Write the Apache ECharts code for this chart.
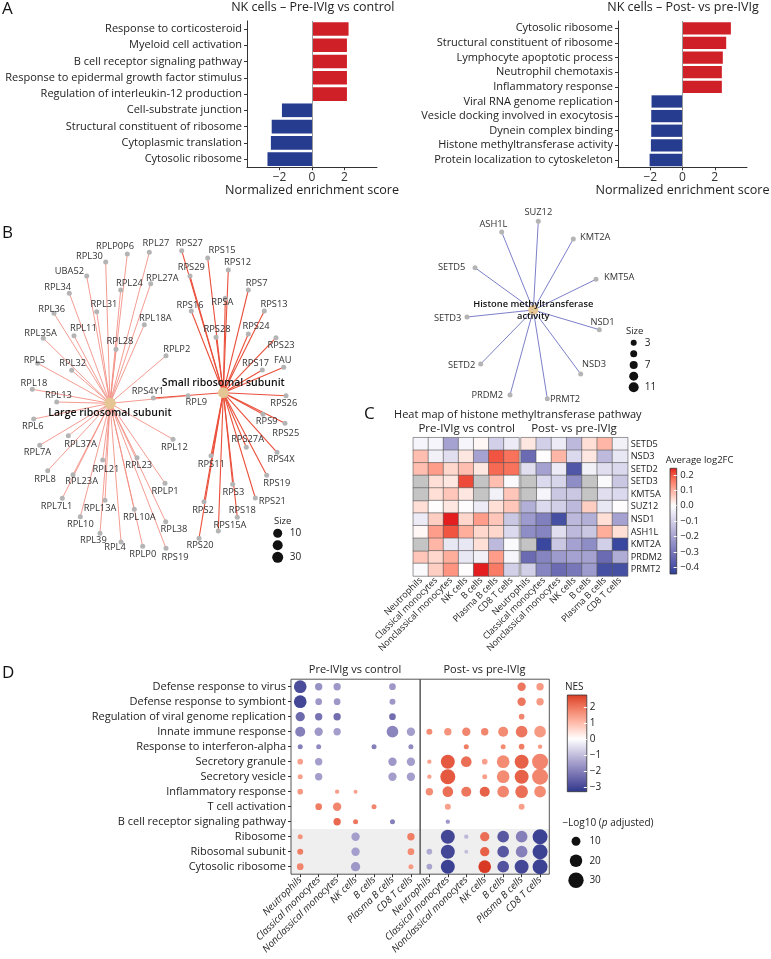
<!DOCTYPE html>
<html><head><meta charset="utf-8">
<script src="https://cdn.jsdelivr.net/npm/echarts@6/dist/echarts.min.js"></script>
<style>html,body{margin:0;padding:0;background:#fff}#c{width:771px;height:959px}</style>
</head><body><div id="c"></div>
<script>
// ================= DATA =================
// Panel A
const aLeftTerms = ['Response to corticosteroid','Myeloid cell activation','B cell receptor signaling pathway','Response to epidermal growth factor stimulus','Regulation of interleukin-12 production','Cell-substrate junction','Structural constituent of ribosome','Cytoplasmic translation','Cytosolic ribosome'];
const aLeftNES = [2.25, 2.15, 2.15, 2.15, 2.15, -1.85, -2.48, -2.53, -2.74];
const aRightTerms = ['Cytosolic ribosome','Structural constituent of ribosome','Lymphocyte apoptotic process','Neutrophil chemotaxis','Inflammatory response','Viral RNA genome replication','Vesicle docking involved in exocytosis','Dynein complex binding','Histone methyltransferase activity','Protein localization to cytoskeleton'];
const aRightNES = [3.0, 2.71, 2.5, 2.44, 2.44, -1.92, -1.94, -1.94, -1.96, -2.04];
const aTicks = [-2, 0, 2];

// Panel B (network layout positions)
const largeHub = ['Large ribosomal subunit', 110, 403.3];
const smallHub = ['Small ribosomal subunit', 223.3, 392.7];
const largeGenes = [['RPL30',105.7,262],['RPLP0P6',127.3,254],['RPL27',149.3,252.3],['UBA52',86.7,276],['RPL24',120.7,290],['RPL27A',150.7,283.7],['RPL34',69.3,293.3],['RPL31',96.7,311.7],['RPL36',54,313.3],['RPL18A',144.3,324.7],['RPL11',74,335.7],['RPL35A',43.3,338.3],['RPL28',116,349.3],['RPLP2',166,355.7],['RPL5',37.7,363.3],['RPL32',71.7,370.3],['RPL18',32.3,389.3],['RPL13',56.7,402],['RPL9',188,395.7],['RPL6',33.7,419],['RPL7A',39.7,445.3],['RPL37A',68.3,435.7],['RPL12',173,439.3],['RPL21',102.7,460],['RPL23',137,457.7],['RPL8',47.7,470.7],['RPL23A',73,474.7],['RPLP1',165,483.3],['RPL7L1',62.3,498.3],['RPL13A',105,500.3],['RPL10',80.3,516.7],['RPL10A',134.3,509.3],['RPL38',165.7,521.7],['RPL39',100,533.3],['RPL4',121,542],['RPLP0',142.7,546.3],['RPS19',166,548.3]];
const largeLabelOff = [[-16.3,-5.3],[-12.3,-7.3],[6.7,-8.7],[-17.3,-5],[8.7,-6.7],[11.7,-5],[-11.7,-6],[7.3,-7.3],[-2.3,-4],[11,-6.3],[9.3,-7.7],[-2.7,-5],[4,-7.7],[10.7,-6.3],[-3.3,-3.3],[1,-7],[1.7,-6.3],[1.7,-6.3],[8.3,7],[-1,7.7],[-2.3,7],[12.3,8.7],[1.3,7.7],[3.3,9.3],[1.7,8],[-2.7,8.3],[8.7,7],[0,7.7],[-5.7,8.3],[-5,7.7],[0,7.7],[5,8],[8.3,7.3],[-6.7,7.3],[-6,5.7],[0,8.3],[9,9]];
const smallGenes = [['RPS27',181.7,250.7],['RPS15',207.7,258],['RPS12',228.3,270],['RPS29',190,276],['RPS7',248.3,290],['RPSA',225.3,298.3],['RPS13',264.3,311],['RPS16',191.3,311],['RPS28',216,337.3],['RPS24',248.3,334],['RPS23',276,337.7],['FAU',283.7,367.3],['RPS17',262.3,370],['RPS26',286,395.7],['RPS9',263,414.3],['RPS25',285,423.3],['RPS27A',246.3,447.3],['RPS4X',277,452.3],['RPS11',211,455.7],['RPS19',266.7,475.3],['RPS3',232.7,484.3],['RPS21',255.3,498],['RPS2',204,501.7],['RPS18',237.3,517.3],['RPS15A',218.3,531],['RPS20',199,538.3],['RPS4Y1',153.3,398]];
const smallLabelOff = [[7.7,-7],[14.3,-7.3],[9.3,-7.3],[1.3,-8.3],[8.3,-6.7],[-3,4.3],[9.7,-7],[-1.3,-5.7],[1,-8],[7.7,-7.3],[5,8],[-1,-7.3],[-6.7,-6.7],[-2.3,8],[3.7,7],[0.7,10],[1.3,-8],[4,7.3],[0.3,8.7],[10,8],[0.7,8],[17,3.7],[-1,8.7],[5,-6.7],[11.7,-5.7],[1,7.3],[-5.3,-7]];
const histHub = ['Histone methyltransferase\nactivity', 533.3, 310];
const histGenes = [['SUZ12',538.3,221.3],['ASH1L',501.7,232],['KMT2A',573.3,239],['SETD5',475,267.7],['KMT5A',596,279.3],['SETD3',467,317],['NSD1',599.3,329.7],['SETD2',480.7,364],['NSD3',580.7,374],['PRDM2',510,395],['PRMT2',547.3,398.7]];
const histLabelOff = [[0,-8.7],[-8.3,-7.7],[22,-1.3],[-23.3,-0.7],[23.3,-1.7],[-19.3,1.3],[3.3,-7.3],[-19,1],[13.3,-9.3],[-22.7,0],[17.7,0.3]];
const riboSizeLegend = [10, 20, 30];
const histSizeLegend = [3, 5, 7, 9, 11];

// Panel C
const heatRows = ['SETD5','NSD3','SETD2','SETD3','KMT5A','SUZ12','NSD1','ASH1L','KMT2A','PRDM2','PRMT2'];
const cellTypes = ['Neutrophils','Classical monocytes','Nonclassical monocytes','NK cells','B cells','Plasma B cells','CD8 T cells'];
const heatPre = [
 [-0.02,-0.02,-0.2,-0.02,0.01,-0.1,-0.04],
 [0.08,-0.03,-0.07,0.03,-0.2,0.2,0.17],
 [0.08,0.12,0.05,0.08,0.03,0.18,0.17],
 [null,0.04,0.03,0.21,null,0.08,-0.01],
 [null,0.04,0.07,0.03,null,-0.03,0.07],
 [0.04,0.0,0.03,0.0,-0.04,0.04,0.07],
 [-0.04,0.06,0.24,0.05,0.12,0.07,-0.12],
 [0.01,0.12,0.2,0.1,0.05,0.05,-0.08],
 [null,0.09,-0.05,-0.05,0.04,-0.15,-0.01],
 [0.07,0.05,0.1,-0.05,-0.03,0.12,-0.02],
 [-0.01,0.06,0.13,0.0,0.24,0.16,-0.1]];
const heatPost = [
 [0.03,-0.1,-0.04,-0.15,0.04,0.09,-0.03],
 [-0.33,0.0,0.09,-0.08,0.03,-0.15,-0.05],
 [-0.07,-0.2,-0.04,-0.38,-0.03,-0.07,-0.08],
 [null,-0.08,-0.09,-0.25,null,-0.01,-0.12],
 [null,-0.02,-0.12,-0.12,null,-0.07,-0.08],
 [-0.17,-0.08,-0.1,-0.15,0.06,-0.05,0.0],
 [-0.22,-0.28,-0.4,-0.15,-0.17,0.04,-0.2],
 [-0.25,-0.27,-0.07,-0.15,-0.12,0.1,0.04],
 [null,-0.42,-0.12,-0.2,-0.25,-0.1,-0.42],
 [-0.33,-0.27,-0.22,-0.2,-0.2,-0.33,-0.18],
 [-0.1,-0.27,-0.33,-0.3,-0.22,-0.4,-0.4]];
const cMin = -0.443, cMax = 0.243;
const cTicks = [-0.4,-0.3,-0.2,-0.1,0,0.1,0.2];

// Panel D
const dRows = ['Defense response to virus','Defense response to symbiont','Regulation of viral genome replication','Innate immune response','Response to interferon-alpha','Secretory granule','Secretory vesicle','Inflammatory response','T cell activation','B cell receptor signaling pathway','Ribosome','Ribosomal subunit','Cytosolic ribosome'];
const dShadedRows = ['Ribosome','Ribosomal subunit','Cytosolic ribosome'];
const dNesPre = [
 [-2.9,-1.7,-1.6,null,null,-1.6,null],
 [-3.0,-1.6,-1.6,null,null,-1.6,null],
 [-2.4,-2.2,-2.3,null,null,-2.3,null],
 [-2.0,-1.6,-1.5,null,null,-1.9,-1.5],
 [-2.0,-1.8,null,null,-2.0,null,-1.8],
 [1.4,-1.5,null,null,null,-1.6,-1.5],
 [1.4,-1.5,null,null,null,-1.5,-1.5],
 [1.5,null,1.4,1.4,null,null,null],
 [null,1.9,1.8,null,1.8,null,null],
 [null,null,2.2,2.0,null,-2.0,null],
 [1.6,null,null,-1.5,null,null,1.9],
 [1.9,null,null,-1.5,null,null,1.7],
 [1.8,null,null,-1.6,null,null,1.5]];
const dSizePre = [
 [20.5,6.9,6.9,null,null,5.7,null],
 [20.5,5.7,5.7,null,null,4.6,null],
 [11.1,6.9,6.9,null,null,5.7,null],
 [12.8,8.9,6.9,null,null,17.4,8.9],
 [3.2,3.2,null,null,3.2,null,3.2],
 [4.1,6.9,null,null,null,8.9,8.9],
 [3.2,6.9,null,null,null,8.9,8.9],
 [4.1,null,2.4,2.0,null,null,null],
 [null,5.7,8.9,null,3.2,null,null],
 [null,null,6.9,3.2,null,3.2,null],
 [3.2,null,null,8.9,null,null,6.9],
 [4.6,null,null,8.9,null,null,5.7],
 [5.7,null,null,11.1,null,null,3.2]];
const dNesPost = [
 [null,null,null,null,null,2.0,1.5],
 [null,null,null,null,null,2.0,1.5],
 [null,null,null,null,null,1.8,null],
 [1.7,1.6,1.8,1.8,1.7,2.0,1.5],
 [null,null,1.9,null,1.7,1.9,1.5],
 [1.4,2.4,2.1,1.4,1.7,2.3,1.8],
 [1.4,2.4,null,1.4,1.7,2.3,1.8],
 [1.7,2.1,2.0,2.3,1.8,2.1,1.7],
 [null,1.4,null,null,null,1.4,null],
 [null,-1.6,null,null,null,null,null],
 [null,-3.0,-1.1,2.1,-2.7,-2.0,-3.1],
 [-1.3,-3.0,-1.0,2.3,-2.7,-2.0,-3.1],
 [-1.4,-3.1,null,2.8,-2.8,-3.0,-3.1]];
const dSizePost = [
 [null,null,null,null,null,8.9,6.9],
 [null,null,null,null,null,8.9,6.9],
 [null,null,null,null,null,4.1,null],
 [4.6,6.9,8.9,6.9,12.8,17.4,17.4],
 [null,null,3.2,null,3.2,4.1,2.4],
 [2.4,25,14.5,4.1,20.5,25,32.7],
 [2.4,28.7,null,3.2,20.5,25,32.7],
 [6.9,14.5,12.8,12.8,17.4,20.5,17.4],
 [null,4.6,null,null,null,4.6,null],
 [null,2.4,null,null,null,null,null],
 [null,25,2.4,11.1,17.4,17.4,28.7],
 [4.1,25,2.0,11.1,17.4,17.4,28.7],
 [4.1,25,null,20.5,17.4,25,28.7]];
const dMin = -3.31, dMax = 2.77;
const dTicks = [-3,-2,-1,0,1,2];
const dSizeLegend = [10, 20, 30];

// ================= STYLE HELPERS =================
const FONT = '"Open Sans", "DejaVu Sans", sans-serif';
const TXT = '#222';
const minus = s => String(s).replace('-', '\u2212');

function hex2rgb(h){h=h.replace('#','');return [0,2,4].map(i=>parseInt(h.substr(i,2),16));}
function s2l(c){c/=255;return c<=0.04045?c/12.92:Math.pow((c+0.055)/1.055,2.4);}
function l2s(c){c=c<=0.0031308?12.92*c:1.055*Math.pow(c,1/2.4)-0.055;return Math.max(0,Math.min(255,Math.round(c*255)));}
function rgb2lab(rgb){const [r,g,b]=rgb.map(s2l);const x=(0.4124*r+0.3576*g+0.1805*b)/0.95047,y=0.2126*r+0.7152*g+0.0722*b,z=(0.0193*r+0.1192*g+0.9505*b)/1.08883;const f=t=>t>0.008856?Math.cbrt(t):7.787*t+16/116;const fx=f(x),fy=f(y),fz=f(z);return [116*fy-16,500*(fx-fy),200*(fy-fz)];}
function lab2hex(lab){const [L,a,bb]=lab;const fy=(L+16)/116,fx=fy+a/500,fz=fy-bb/200;const fi=t=>{const t3=t*t*t;return t3>0.008856?t3:(t-16/116)/7.787;};const x=fi(fx)*0.95047,y=fi(fy),z=fi(fz)*1.08883;const r=3.2406*x-1.5372*y-0.4986*z,g=-0.9689*x+1.8758*y+0.0415*z,b=0.0557*x-0.2040*y+1.0570*z;return '#'+[r,g,b].map(l2s).map(v=>v.toString(16).padStart(2,'0')).join('');}
function diverging(lo, hi, vmin, vmax){
  const W=rgb2lab([255,255,255]), L=rgb2lab(hex2rgb(lo)), H=rgb2lab(hex2rgb(hi));
  return v=>{const t=v<0?Math.min(1,v/vmin):Math.min(1,v/vmax);const E=v<0?L:H;return lab2hex(W.map((w,i)=>w+(E[i]-w)*t));};
}
function sample(fn, vmin, vmax, n){const a=[];for(let i=0;i<n;i++)a.push(fn(vmin+(vmax-vmin)*i/(n-1)));return a;}
function gradientTopDown(fn, vmin, vmax, n){const stops=[];for(let i=0;i<n;i++){stops.push({offset:i/(n-1),color:fn(vmax-(vmax-vmin)*i/(n-1))});}return {type:'linear',x:0,y:0,x2:0,y2:1,colorStops:stops};}
const cColor = diverging('#2b3f99', '#e3191c', cMin, cMax);
const dColor = diverging('#2a378c', '#d93a25', dMin, dMax);

// ================= BUILD =================
const grids=[], xAxes=[], yAxes=[], series=[], titles=[];
function addGrid(g){grids.push(Object.assign({outerBoundsMode:'none',containLabel:false,show:false},g));return grids.length-1;}
function T(text,x,y,o){o=o||{};titles.push({text:text,left:x,top:y,padding:0,textAlign:o.align||'left',textVerticalAlign:o.valign||'middle',
  textStyle:Object.assign({fontFamily:FONT,fontSize:o.fs||11,fontWeight:o.fw||'normal',color:o.color||TXT},o.ts||{})});}

// ---- Panel A ----
function barPanel(terms, vals, g){
  const gi=addGrid(g);
  xAxes.push({gridIndex:gi,type:'value',min:-4,max:4,interval:2,
    axisLine:{show:true,onZero:false,lineStyle:{color:'#333',width:1}},
    axisTick:{show:true,length:3,customValues:aTicks,lineStyle:{color:'#333'}},
    axisLabel:{customValues:aTicks,formatter:v=>minus(v),fontFamily:FONT,fontSize:12,color:'#333',margin:4},
    splitLine:{show:false},name:'Normalized enrichment score',nameLocation:'middle',nameGap:17,
    nameTextStyle:{fontFamily:FONT,fontSize:12.6,color:TXT}});
  yAxes.push({gridIndex:gi,type:'category',data:terms,inverse:true,
    axisLine:{show:true,onZero:false,lineStyle:{color:'#333'}},
    axisTick:{show:true,length:3,alignWithLabel:true,lineStyle:{color:'#333'}},
    axisLabel:{fontFamily:FONT,fontSize:11,color:TXT,margin:5,interval:0}});
  series.push({type:'bar',xAxisIndex:gi,yAxisIndex:gi,barCategoryGap:'16%',silent:true,
    data:vals.map(v=>({value:v,itemStyle:{color:v>0?'#cf2027':'#263d8f'}})),
    markLine:{silent:true,symbol:'none',label:{show:false},lineStyle:{color:'#999',width:1,type:'solid'},data:[{xAxis:0}]}});
}
barPanel(aLeftTerms, aLeftNES, {left:247,top:20.9,width:130,height:146.3});
barPanel(aRightTerms, aRightNES, {left:618,top:21,width:129,height:146.3});
T('A',2,9,{fs:17,color:'#111'});
T('NK cells \u2013 Pre-IVIg vs control',312.8,7,{align:'center',fs:12.5});
T('NK cells \u2013 Post- vs pre-IVIg',683,7,{align:'center',fs:12.5});

// ---- Panel B (network on a page-scale cartesian layout) ----
const pg=addGrid({left:0,top:0,width:771,height:959});
xAxes.push({gridIndex:pg,type:'value',min:0,max:771,show:false});
yAxes.push({gridIndex:pg,type:'value',min:0,max:959,inverse:true,show:false});
const riboSize = v => 8 + 0.1*v;
const histSize = v => 4.5 + 0.5*v;
function buildNet(prefix, hubs, groups, edgeStyles, hubSizeFn){
  const nodes=[], links=[];
  groups.forEach((grp,gIdx)=>{
    grp.genes.forEach((gn,i)=>{
      nodes.push({id:prefix+gIdx+'_'+i,name:gn[0],value:[gn[1],gn[2]],symbolSize:5,itemStyle:{color:'#b4b4b4'},
        label:{show:true,position:'inside',offset:grp.off[i],fontFamily:FONT,fontSize:9.3,color:'#333'}});
      links.push({source:nodes.length-1,target:-1-gIdx,lineStyle:edgeStyles[gIdx]});
    });
  });
  hubs.forEach((h,k)=>{
    nodes.push({id:prefix+'hub'+k,name:h[0],value:[h[1],h[2]],symbolSize:hubSizeFn(groups[k].genes.length),itemStyle:{color:'#e6c594'},
      label:{show:true,position:'inside',offset:h[3],fontFamily:FONT,fontSize:h[4],fontWeight:600,color:'#111',lineHeight:12}});
    const idx=nodes.length-1;
    links.forEach(l=>{if(l.target===-1-k)l.target=idx;});
  });
  return {nodes,links};
}
const ribo = buildNet('r',[[largeHub[0],largeHub[1],largeHub[2],[0,9.5],10.5],[smallHub[0],smallHub[1],smallHub[2],[0,-9.5],10.5]],
  [{genes:largeGenes,off:largeLabelOff},{genes:smallGenes,off:smallLabelOff}],
  [{color:'#f39186',width:0.9,opacity:1},{color:'#ea4f3a',width:1.1,opacity:1}], riboSize);
series.push({type:'graph',coordinateSystem:'cartesian2d',xAxisIndex:pg,yAxisIndex:pg,silent:true,
  data:ribo.nodes,links:ribo.links,edgeSymbol:['none','none'],z:3});
const hist = buildNet('h',[[histHub[0],histHub[1],histHub[2],[0,0],9.3]],[{genes:histGenes,off:histLabelOff}],
  [{color:'#6d70c2',width:0.9,opacity:1}], histSize);
series.push({type:'graph',coordinateSystem:'cartesian2d',xAxisIndex:pg,yAxisIndex:pg,silent:true,
  data:hist.nodes,links:hist.links,edgeSymbol:['none','none'],z:3});
T('B',2,233,{fs:17,color:'#111'});

function sizeLegend(vals, sizeFn, g, margin, fs){
  const gi=addGrid(g);
  xAxes.push({gridIndex:gi,type:'category',data:['s'],show:false});
  yAxes.push({gridIndex:gi,type:'category',data:vals.map(String),inverse:true,position:'right',
    axisLine:{show:false},axisTick:{show:false},axisLabel:{margin:margin,fontFamily:FONT,fontSize:fs,color:TXT}});
  series.push({type:'scatter',xAxisIndex:gi,yAxisIndex:gi,silent:true,
    data:vals.map((v,i)=>[0,i,v]),symbolSize:val=>sizeFn(val[2]),itemStyle:{color:'#111',opacity:1}});
}
sizeLegend(riboSizeLegend, riboSize, {left:271.7,top:527.3,width:12,height:36}, 6, 10);
sizeLegend(histSizeLegend, histSize, {left:627.7,top:337.1,width:12,height:55.8}, 5, 10);
T('Size',274,521.7,{fs:9.5});
T('Size',626,331.7,{fs:9.5});

// ---- Panel C ----
const heatSeriesIdx=[];
function heatPanel(vals, g, showRows){
  const gi=addGrid(g);
  xAxes.push({gridIndex:gi,type:'category',data:cellTypes,axisLine:{show:false},axisTick:{show:false},
    axisLabel:{rotate:45,interval:0,fontFamily:FONT,fontSize:9,color:TXT,margin:3}});
  yAxes.push({gridIndex:gi,type:'category',data:heatRows,inverse:true,position:'right',axisLine:{show:false},axisTick:{show:false},
    axisLabel:{show:showRows,fontFamily:FONT,fontSize:9.2,color:TXT,margin:3,interval:0}});
  const good=[],na=[];
  vals.forEach((row,r)=>row.forEach((v,c)=>{if(v===null)na.push([c,r,0]);else good.push([c,r,v]);}));
  series.push({type:'heatmap',xAxisIndex:gi,yAxisIndex:gi,silent:true,data:good,itemStyle:{borderColor:'#555',borderWidth:0.6}});
  heatSeriesIdx.push(series.length-1);
  if(na.length) series.push({type:'heatmap',xAxisIndex:gi,yAxisIndex:gi,silent:true,data:na,itemStyle:{color:'#c4c4c4',borderColor:'#555',borderWidth:0.6}});
}
heatPanel(heatPre,{left:413.3,top:437.7,width:105.7,height:138.3},false);
heatPanel(heatPost,{left:521,top:437.7,width:106.7,height:138.3},true);
T('C',364,414,{fs:17,color:'#111'});
T('Heat map of histone methyltransferase pathway',517.8,415,{align:'center',fs:11});
T('Pre-IVIg vs control',466.7,428.3,{align:'center',fs:11.5});
T('Post- vs pre-IVIg',574,428.3,{align:'center',fs:11.5});
T('Average log2FC',665.7,460,{fs:9.5});

function colorBar(fn, vmin, vmax, ticks, fmt, g, margin, fs){
  const gi=addGrid(g);
  xAxes.push({gridIndex:gi,type:'category',data:['c'],show:false});
  yAxes.push({gridIndex:gi,type:'value',min:vmin,max:vmax,position:'right',z:10,axisLine:{show:false},splitLine:{show:false},
    axisTick:{show:true,inside:true,length:3,customValues:ticks,lineStyle:{color:'#fff',width:1}},
    axisLabel:{customValues:ticks,formatter:fmt,fontFamily:FONT,fontSize:fs,color:TXT,margin:margin}});
  series.push({type:'scatter',xAxisIndex:gi,yAxisIndex:gi,silent:true,data:[[0,0]],symbolSize:0,
    markArea:{silent:true,itemStyle:{color:gradientTopDown(fn,vmin,vmax,41),borderColor:'#333',borderWidth:0.8},
      data:[[{yAxis:vmin},{yAxis:vmax}]]}});
}
colorBar(cColor,cMin,cMax,cTicks,v=>(v<0?'\u2212':'')+Math.abs(v).toFixed(1),{left:670,top:468.3,width:6.7,height:105.7},3.5,9.5);

// ---- Panel D ----
const dScatterIdx=[];
function dotPanel(nes, size, g, showRows){
  const gi=addGrid(Object.assign({show:true,borderColor:'#555',borderWidth:1,backgroundColor:'transparent'},g));
  xAxes.push({gridIndex:gi,type:'category',data:cellTypes,axisLine:{show:false},
    axisTick:{show:true,length:3,alignWithLabel:true,lineStyle:{color:'#333'}},
    axisLabel:{rotate:45,interval:0,fontFamily:FONT,fontStyle:'italic',fontSize:9.8,color:TXT,margin:4}});
  yAxes.push({gridIndex:gi,type:'category',data:dRows,inverse:true,axisLine:{show:false},
    axisTick:{show:showRows,length:3,alignWithLabel:true,lineStyle:{color:'#333'}},
    axisLabel:{show:showRows,fontFamily:FONT,fontSize:11,color:TXT,margin:5,interval:0}});
  const bg=[];
  dShadedRows.forEach(rn=>{const r=dRows.indexOf(rn);cellTypes.forEach((c,ci)=>bg.push([ci,r,0]));});
  series.push({type:'heatmap',xAxisIndex:gi,yAxisIndex:gi,silent:true,z:-1,data:bg,itemStyle:{color:'#efefef',borderWidth:0}});
  const pts=[];
  nes.forEach((row,r)=>row.forEach((v,c)=>{if(v!==null)pts.push([c,r,v,size[r][c]]);}));
  series.push({type:'scatter',xAxisIndex:gi,yAxisIndex:gi,silent:true,data:pts,symbolSize:val=>2.8*Math.sqrt(val[3]),itemStyle:{opacity:1}});
  dScatterIdx.push(series.length-1);
}
dotPanel(dNesPre,dSizePre,{left:291,top:679.2,width:129.15,height:195},true);
dotPanel(dNesPost,dSizePost,{left:420.15,top:679.2,width:129.15,height:195},false);
T('D',2,673,{fs:17,color:'#111'});
T('Pre-IVIg vs control',355,670,{align:'center',fs:11});
T('Post- vs pre-IVIg',484.5,670,{align:'center',fs:11});
T('NES',565,686.7,{fs:10});
colorBar(dColor,dMin,dMax,dTicks,v=>minus(v),{left:567.3,top:695,width:19.5,height:96.7},3,10);
titles.push({text:'\u2212Log10 ({i|p} adjusted)',left:562.4,top:823.3,padding:0,textVerticalAlign:'middle',
  textStyle:{fontFamily:FONT,fontSize:10,fontWeight:'normal',color:TXT,
    rich:{i:{fontFamily:FONT,fontSize:10,fontWeight:'normal',fontStyle:'italic',color:TXT}}}});
sizeLegend(dSizeLegend, v=>2.8*Math.sqrt(v), {left:567,top:831.5,width:18,height:58.5}, 4.4, 10);

const option = {
  backgroundColor:'#fff', animation:false,
  title:titles, grid:grids, xAxis:xAxes, yAxis:yAxes, series:series,
  visualMap:[
    {type:'continuous',show:false,seriesIndex:heatSeriesIdx,dimension:2,min:cMin,max:cMax,inRange:{color:sample(cColor,cMin,cMax,41)}},
    {type:'continuous',show:false,seriesIndex:dScatterIdx,dimension:2,min:dMin,max:dMax,inRange:{color:sample(dColor,dMin,dMax,41)}}
  ]
};
const chart = echarts.init(document.getElementById('c'), null, {renderer:'canvas'});
chart.setOption(option);
</script>
</body></html>
